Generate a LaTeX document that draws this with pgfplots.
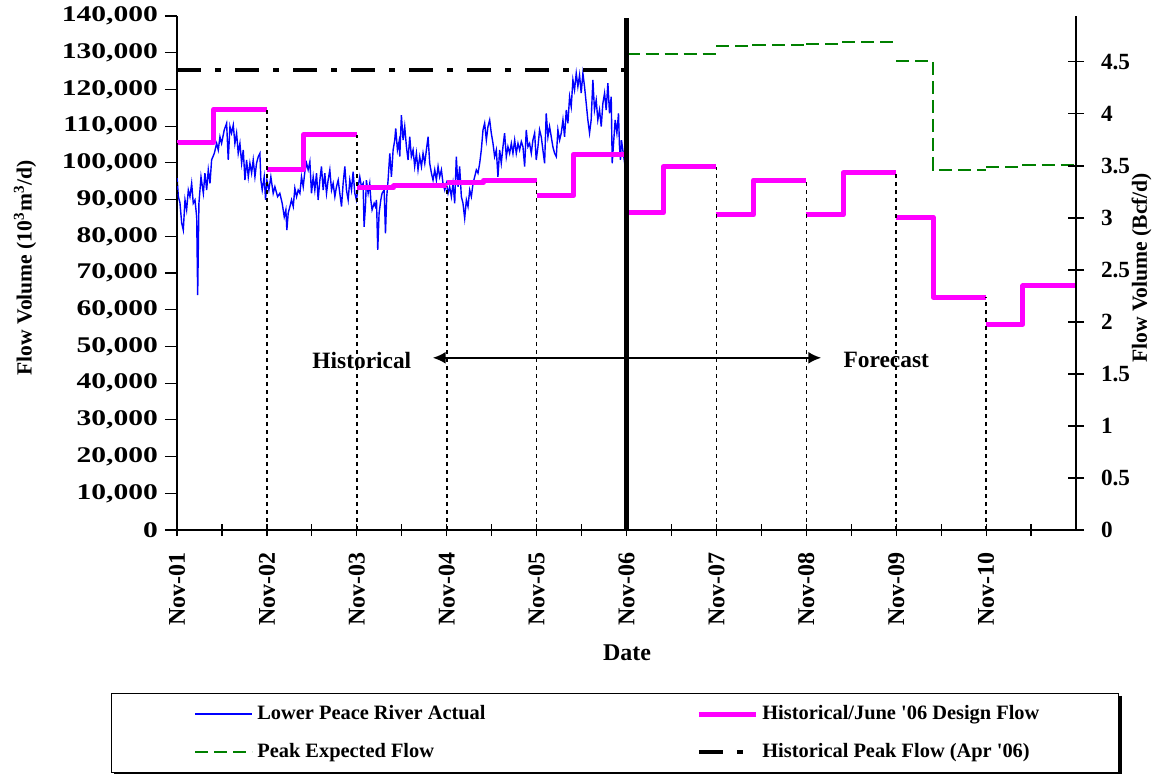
\documentclass[border=0pt]{standalone}
\usepackage{fontspec}
\setmainfont{Liberation Serif}
\newfontfamily\tickfont{Liberation Serif}[FakeStretch=1.32]
\usepackage{pgfplots}
\pgfplotsset{compat=1.18}
\usetikzlibrary{arrows.meta}
\definecolor{peaceblue}{RGB}{0,0,255}
\definecolor{designmag}{RGB}{255,0,255}
\definecolor{peakgreen}{RGB}{0,128,0}
\begin{document}
\begin{tikzpicture}
\useasboundingbox (0bp,0bp) rectangle (579bp,-387bp);
\begin{axis}[
  at={(88.5bp,-265bp)}, anchor=south west,
  scale only axis, width=449.5bp, height=257bp,
  xmin=0, xmax=10, ymin=0, ymax=140,
  axis x line*=bottom, axis y line*=left,
  axis line style={line width=0.6bp},
  unbounded coords=jump,
  xtick={0,...,9},
  xticklabels={Nov-01,Nov-02,Nov-03,Nov-04,Nov-05,Nov-06,Nov-07,Nov-08,Nov-09,Nov-10},
  minor xtick={0.5,1.5,...,9.5},
  ytick={0,10,...,140},
  yticklabels={0,{10,000},{20,000},{30,000},{40,000},{50,000},{60,000},{70,000},{80,000},{90,000},{100,000},{110,000},{120,000},{130,000},{140,000}},
  xtick align=center, ytick align=outside,
  major tick length=6bp, minor tick length=6bp,
  tick style={black, line width=0.6bp},
  xticklabel style={rotate=90, anchor=east, xshift=-4.5bp, font=\bfseries\fontsize{12bp}{13bp}\selectfont},
  yticklabel style={font=\tickfont\bfseries\fontsize{11.2bp}{12bp}\selectfont},
  xlabel={Date},
  xlabel style={at={(axis description cs:0.5006,-0.239)}, anchor=center, font=\bfseries\fontsize{12bp}{14bp}\selectfont},
  ylabel={Flow Volume (10\textsuperscript{3}m\textsuperscript{3}/d)},
  ylabel style={at={(axis description cs:-0.169,0.51)}, anchor=center, font=\bfseries\fontsize{10.8bp}{12bp}\selectfont},
  legend columns=2,
  legend cell align=left,
  legend image code/.code={\draw[#1] (0bp,0bp) -- (28.5bp,0bp);},
  legend style={name=leg, at={(0.487,-0.317)}, anchor=north, draw=black, line width=0.6bp, fill=white,
    inner xsep=41.5bp, inner ysep=3.3bp,
    font=\bfseries\fontsize{10.2bp}{12bp}\selectfont,
    nodes={inner sep=2bp, text height=7.5bp, text depth=2.5bp},
    row sep=5bp},
]
% Lower Peace River Actual (10^3 m^3/d, in thousands)
\addplot[peaceblue, line width=0.7bp] coordinates {
(0.000,96.2)(0.015,90.8)(0.033,89.1)(0.052,83.6)(0.070,81.7)(0.089,89.9)(0.107,87.2)(0.126,92.6)
(0.144,90.8)(0.163,94.4)(0.181,89.0)(0.200,89.9)(0.219,85.3)(0.230,64.0)(0.244,89.0)(0.267,96.2)
(0.293,91.7)(0.311,97.2)(0.330,92.6)(0.348,98.1)(0.367,94.4)(0.385,100.8)(0.415,102.6)(0.441,105.3)
(0.459,103.5)(0.478,107.1)(0.496,105.3)(0.526,109.0)(0.552,110.8)(0.570,100.8)(0.589,109.9)(0.607,108.1)
(0.626,110.3)(0.644,105.3)(0.663,108.1)(0.681,102.6)(0.700,105.3)(0.719,99.9)(0.737,103.5)(0.756,95.3)
(0.774,100.8)(0.793,96.2)(0.811,99.9)(0.830,97.2)(0.848,100.8)(0.867,96.2)(0.885,99.9)(0.904,101.7)
(0.922,102.6)(0.933,95.3)(0.948,92.6)(0.970,96.2)(0.985,89.9)(1.000,95.3)(1.022,92.6)(1.044,96.2)
(1.070,91.7)(1.089,93.5)(1.119,90.8)(1.144,91.7)(1.170,89.0)(1.193,85.3)(1.211,87.2)(1.222,81.7)
(1.237,86.3)(1.256,88.1)(1.274,89.9)(1.293,88.1)(1.311,93.1)(1.330,90.8)(1.348,92.6)(1.367,91.7)
(1.385,96.2)(1.404,93.5)(1.422,97.6)(1.441,99.9)(1.459,98.1)(1.478,100.3)(1.496,91.7)(1.515,96.2)
(1.533,92.6)(1.552,97.2)(1.570,89.9)(1.589,95.3)(1.607,99.0)(1.626,92.6)(1.644,97.2)(1.663,91.7)
(1.681,95.3)(1.700,98.1)(1.719,92.6)(1.737,94.4)(1.756,90.8)(1.774,93.5)(1.793,95.3)(1.811,91.7)
(1.830,88.1)(1.848,94.4)(1.867,99.0)(1.885,92.6)(1.904,89.9)(1.922,95.3)(1.941,92.6)(1.959,97.6)
(1.978,91.7)(1.996,89.9)(2.015,93.5)(2.033,96.2)(2.052,93.5)(2.070,94.4)(2.081,82.6)(2.096,88.1)
(2.107,95.3)(2.126,91.7)(2.144,94.4)(2.156,89.9)(2.170,87.2)(2.193,89.0)(2.207,88.1)(2.219,89.9)
(2.233,76.3)(2.248,86.3)(2.267,89.9)(2.281,91.7)(2.304,92.6)(2.319,80.8)(2.333,90.8)(2.348,95.3)
(2.367,102.6)(2.385,96.2)(2.404,103.5)(2.422,106.2)(2.433,109.4)(2.452,103.5)(2.470,105.8)(2.478,101.7)
(2.496,113.0)(2.515,106.2)(2.533,109.9)(2.552,104.4)(2.570,100.8)(2.589,107.1)(2.607,101.7)(2.626,103.5)
(2.644,99.0)(2.663,102.6)(2.681,98.1)(2.700,101.7)(2.719,99.0)(2.737,102.6)(2.756,99.9)(2.774,103.5)
(2.793,107.1)(2.811,99.9)(2.830,97.2)(2.848,95.3)(2.867,98.1)(2.885,95.3)(2.904,99.0)(2.922,96.2)
(2.941,98.1)(2.959,94.4)(2.978,92.6)(2.996,94.4)(3.015,91.7)(3.033,93.5)(3.052,90.8)(3.070,94.4)
(3.089,89.0)(3.107,101.7)(3.126,93.5)(3.144,99.0)(3.163,90.8)(3.181,89.0)(3.200,84.9)(3.219,89.9)
(3.237,88.1)(3.256,92.6)(3.274,90.8)(3.293,94.4)(3.311,96.2)(3.330,98.1)(3.348,97.2)(3.367,99.9)
(3.385,103.5)(3.404,109.0)(3.422,110.8)(3.441,106.2)(3.459,109.9)(3.478,111.7)(3.496,108.1)(3.515,105.3)
(3.533,101.7)(3.552,103.5)(3.570,96.2)(3.589,103.5)(3.607,99.9)(3.626,104.4)(3.644,108.1)(3.663,101.7)
(3.681,104.4)(3.700,102.6)(3.719,105.3)(3.737,102.6)(3.756,106.2)(3.774,102.6)(3.793,105.3)(3.811,103.5)
(3.830,105.8)(3.848,104.4)(3.867,99.0)(3.885,109.0)(3.904,104.4)(3.922,105.3)(3.941,102.6)(3.959,106.2)
(3.978,108.1)(3.996,100.8)(4.015,104.4)(4.033,109.0)(4.052,107.1)(4.070,103.5)(4.089,99.9)(4.107,113.5)
(4.126,107.1)(4.144,109.9)(4.163,107.1)(4.181,104.4)(4.200,102.6)(4.219,101.7)(4.237,109.0)(4.256,106.2)
(4.274,108.1)(4.293,111.7)(4.311,107.1)(4.330,114.4)(4.348,110.8)(4.367,118.0)(4.385,115.3)(4.404,122.6)
(4.422,119.9)(4.441,124.4)(4.459,120.8)(4.478,123.9)(4.496,119.0)(4.515,124.4)(4.533,120.8)(4.552,116.2)
(4.570,111.7)(4.589,108.1)(4.607,111.7)(4.626,122.6)(4.644,114.4)(4.663,117.1)(4.681,111.7)(4.700,114.4)
(4.719,109.9)(4.737,116.2)(4.756,119.0)(4.774,114.4)(4.793,121.7)(4.811,113.5)(4.830,118.0)(4.841,99.9)
(4.856,105.3)(4.874,111.7)(4.893,108.1)(4.911,113.5)(4.922,104.4)(4.933,100.8)(4.944,106.2)(4.959,103.5)
(4.985,99.0)
};
\addlegendentry{\makebox[217.5bp][l]{Lower Peace River Actual}}
% Historical/June '06 Design Flow
\addplot[designmag, line width=2.5bp, line join=round] coordinates {
(0,105.5)(0.41,105.5)(0.41,114.6)(1,114.6)(1,nan)
(1,98.1)(1.41,98.1)(1.41,107.7)(2,107.7)(2,nan)
(2,93.2)(2.41,93.2)(2.41,93.7)(3,93.7)(3,nan)
(3,94.7)(3.41,94.7)(3.41,95.2)(4,95.2)(4,nan)
(4,91.0)(4.41,91.0)(4.41,102.3)(5,102.3)(5,nan)
(5,86.4)(5.41,86.4)(5.41,99.0)(6,99.0)(6,nan)
(6,85.8)(6.41,85.8)(6.41,95.3)(7,95.3)(7,nan)
(7,85.8)(7.41,85.8)(7.41,97.3)(8,97.3)(8,nan)
(8,85.2)(8.41,85.2)(8.41,63.4)(9,63.4)(9,nan)
(9,56.1)(9.41,56.1)(9.41,66.5)(10,66.5)
};
\addlegendentry{\makebox[134.5bp][l]{Historical/June \textquotesingle 06 Design Flow}}
% Peak Expected Flow
\addplot[peakgreen, line width=1bp, dash pattern=on 6.5bp off 3bp] coordinates {
(5,129.6)(6,129.6)(6,nan)
(6,131.7)(6.41,131.7)(6.41,132.1)(7,132.1)(7,nan)
(7,132.4)(7.41,132.4)(7.41,132.9)(8,132.9)(8,nan)
(8,127.8)(8.41,127.8)(8.41,98.1)(9,98.1)(9,nan)
(9,99.0)(9.41,99.0)(9.41,99.4)(10,99.4)
};
\addlegendentry{\makebox[217.5bp][l]{Peak Expected Flow}}
% Historical Peak Flow (Apr '06)
\addplot[black, line width=2bp, dash pattern=on 12bp off 7bp on 3bp off 7bp] coordinates {
(0,125.3)(5,125.3)
};
\addlegendentry{\makebox[134.5bp][l]{Historical Peak Flow (Apr \textquotesingle 06)}}
% yearly dotted dividers
\addplot[forget plot, black, line width=0.8bp, dash pattern=on 2bp off 2bp] coordinates {
(0,0)(0,105.5)(0,nan)
(1,0)(1,114.6)(1,nan)
(2,0)(2,107.7)(2,nan)
(3,0)(3,93.7)(3,nan)
(4,0)(4,95.2)(4,nan)
(6,0)(6,99.0)(6,nan)
(7,0)(7,95.3)(7,nan)
(8,0)(8,97.3)(8,nan)
(9,0)(9,63.4)
};
% historical / forecast divider
\addplot[forget plot, black, line width=2.5bp] coordinates {(5,0)(5,139.5)};
\node[font=\bfseries\fontsize{11.7bp}{13bp}\selectfont] at (axis cs:2.056,46.3) {Historical};
\node[font=\bfseries\fontsize{11.7bp}{13bp}\selectfont] at (axis cs:7.889,46.3) {Forecast};
\draw[line width=1.1bp, {Latex[length=6.5bp,width=6bp]}-{Latex[length=6.5bp,width=6bp]}]
  (axis cs:2.844,46.9) -- (axis cs:7.167,46.9);
\end{axis}
\draw[black, line width=1.5bp] ([shift={(0.75bp,-1.5bp)}]leg.north east) -- ([shift={(0.75bp,-0.75bp)}]leg.south east) -- ([shift={(1.5bp,-0.75bp)}]leg.south west);
\begin{axis}[
  at={(88.5bp,-265bp)}, anchor=south west,
  scale only axis, width=449.5bp, height=257bp,
  xmin=0, xmax=10, ymin=0, ymax=4.941,
  axis x line=none, axis y line*=right,
  axis line style={line width=0.6bp},
  ytick={0,0.5,...,4.5},
  ytick align=center, major tick length=8bp,
  tick style={black, line width=0.6bp},
  /pgf/number format/assume math mode=true,
  yticklabel style={font=\bfseries\fontsize{11.6bp}{12bp}\selectfont, xshift=5bp},
  ylabel={Flow Volume (Bcf/d)},
  ylabel style={at={(axis description cs:1.073,0.51)}, anchor=center, font=\bfseries\fontsize{10.8bp}{12bp}\selectfont},
]
\addplot[draw=none] coordinates {(0,0)(10,4.9)};
\end{axis}
\end{tikzpicture}
\end{document}
